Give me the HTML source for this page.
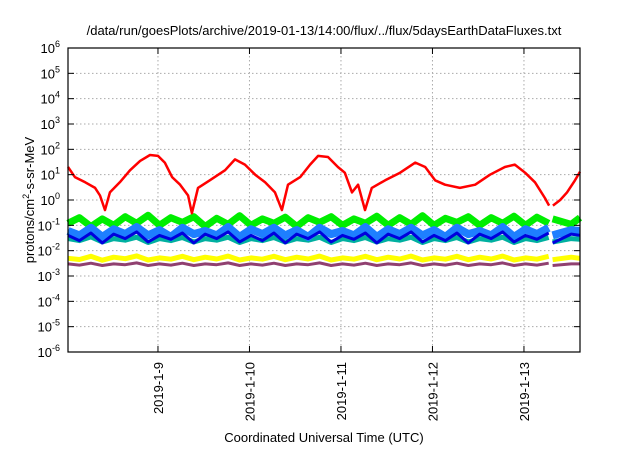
<!DOCTYPE html>
<html><head><meta charset="utf-8"><style>
body{margin:0;background:#fff;}
svg text{font-family:"Liberation Sans",sans-serif;fill:#000;}
</style></head><body>
<svg id="chart" width="640" height="448" xmlns="http://www.w3.org/2000/svg">
<text x="324" y="35" font-size="13" text-anchor="middle">/data/run/goesPlots/archive/2019-01-13/14:00/flux/../flux/5daysEarthDataFluxes.txt</text>
<text x="324" y="442" font-size="13" text-anchor="middle">Coordinated Universal Time (UTC)</text>
<text transform="translate(34,200) rotate(-90)" font-size="13" text-anchor="middle">protons/cm<tspan font-size="9" dy="-5">2</tspan><tspan dy="5">-s-sr-MeV</tspan></text>
<g id="grid"></g><g id="series"></g><g id="axes"></g>
</svg>
<script>
const dayLabels=["2019-1-9","2019-1-10","2019-1-11","2019-1-12","2019-1-13"];
const dayHours=[23.6,47.6,71.6,95.6,119.6];
const decadeExps=[-6,-5,-4,-3,-2,-1,0,1,2,3,4,5,6];
const gapStart=126.2, gapEnd=127.0;
const redT=[0,1.8,4.5,7.1,8.4,9.7,11.0,13.6,16.3,18.9,21.5,23.6,25.4,27.3,29.4,31.5,32.5,34.1,37.2,41.2,43.8,46.4,49.1,51.7,54.3,56.1,57.7,60.9,63.5,65.6,68.2,70.8,72.6,74.5,76.1,77.9,79.7,83.2,87.1,91.1,93.7,96.3,98.9,102.8,106.8,110.7,114.6,117.2,119.9,122.5,125.1,126.2,127.2,129.1,130.9,133.0,134.3];
const redV=[20,8,5,3,1.5,0.4,2,5,15,35,60,55,30,8,4,1.5,0.3,3,6,15,40,25,10,5,2,0.4,4,8,25,55,50,20,12,2,4,0.4,3,6,12,30,20,6,4,3,4,10,20,25,12,5,1.2,0.6,0.6,1,2,6,13];
const bandT=[0,3,6,9,12,15,18,21,24,27,30,33,36,39,42,45,48,51,54,57,60,63,66,69,72,75,78,81,84,87,90,93,96,99,102,105,108,111,114,117,120,123,126.1,127.1,132,134.3];
const greenV=[0.12,0.2,0.09,0.18,0.1,0.22,0.12,0.25,0.1,0.2,0.13,0.22,0.09,0.19,0.11,0.24,0.1,0.18,0.12,0.21,0.09,0.2,0.13,0.22,0.1,0.18,0.12,0.23,0.1,0.2,0.11,0.24,0.1,0.19,0.13,0.22,0.1,0.2,0.12,0.23,0.1,0.21,0.12,0.18,0.11,0.2];
const cyanV=[0.03,0.025,0.035,0.022,0.03,0.026,0.034,0.021,0.03,0.025,0.033,0.022,0.03,0.026,0.034,0.021,0.03,0.025,0.033,0.022,0.03,0.026,0.034,0.021,0.03,0.025,0.033,0.022,0.03,0.026,0.034,0.021,0.03,0.025,0.033,0.022,0.03,0.026,0.034,0.021,0.03,0.025,0.033,0.022,0.03,0.028];
const blueV=[0.06,0.04,0.08,0.035,0.07,0.045,0.085,0.04,0.065,0.035,0.08,0.045,0.06,0.04,0.085,0.035,0.07,0.045,0.08,0.04,0.065,0.035,0.08,0.045,0.06,0.04,0.085,0.035,0.07,0.045,0.08,0.04,0.065,0.035,0.08,0.045,0.06,0.04,0.085,0.035,0.07,0.045,0.08,0.04,0.065,0.06];
const darkBlueV=[0.04,0.025,0.05,0.02,0.045,0.03,0.055,0.022,0.04,0.028,0.05,0.02,0.045,0.03,0.055,0.022,0.04,0.025,0.05,0.02,0.045,0.03,0.055,0.022,0.04,0.028,0.05,0.02,0.045,0.03,0.055,0.022,0.04,0.025,0.05,0.02,0.045,0.03,0.055,0.022,0.04,0.028,0.05,0.02,0.045,0.04];
const yellowV=[0.005,0.0045,0.006,0.0042,0.0055,0.0048,0.0062,0.0043,0.0052,0.0046,0.006,0.0044,0.0055,0.0047,0.0061,0.0043,0.0052,0.0046,0.006,0.0044,0.0055,0.0047,0.0061,0.0043,0.0052,0.0046,0.006,0.0044,0.0055,0.0047,0.0061,0.0043,0.0052,0.0046,0.006,0.0044,0.0055,0.0047,0.0061,0.0043,0.0052,0.0046,0.006,0.0044,0.0055,0.005];
const purpleV=[0.003,0.0027,0.0032,0.0026,0.003,0.0028,0.0033,0.0026,0.003,0.0027,0.0032,0.0026,0.003,0.0028,0.0033,0.0026,0.003,0.0027,0.0032,0.0026,0.003,0.0028,0.0033,0.0026,0.003,0.0027,0.0032,0.0026,0.003,0.0028,0.0033,0.0026,0.003,0.0027,0.0032,0.0026,0.003,0.0028,0.0033,0.0026,0.003,0.0027,0.0032,0.0026,0.003,0.003];

const L=68,R=580,T=48,B=352,NS="http://www.w3.org/2000/svg";
const xMax=134.3;
function xs(h){return L+h*(R-L)/xMax;}
function ys(v){return B-(Math.log10(v)+6)*(B-T)/12;}
function mk(tag,attrs,parent){const e=document.createElementNS(NS,tag);for(const k in attrs)e.setAttribute(k,attrs[k]);parent.appendChild(e);return e;}
const grid=document.getElementById('grid'),axes=document.getElementById('axes'),ser=document.getElementById('series');
decadeExps.forEach(e=>{
  const y=ys(Math.pow(10,e));
  if(e>-6&&e<6){const g=mk('line',{x1:L,x2:R,y1:y,y2:y,stroke:'#aaa','stroke-dasharray':'1.5,2.5','stroke-width':1},grid);
  
  }
  const t1=mk('line',{x1:L,x2:L+6,y1:y,y2:y,stroke:'#000'},axes);
  
  
  const t2=mk('line',{x1:R,x2:R-6,y1:y,y2:y,stroke:'#000'},axes);
  
  
  const lb=mk('text',{x:L-8,y:y+5,'font-size':13,'text-anchor':'end'},axes);
  
  
  lb.innerHTML='10<tspan font-size="9" dy="-6">'+e+'</tspan>';
});
dayHours.forEach((h,i)=>{
  const x=xs(h);
  const g=mk('line',{x1:x,x2:x,y1:T,y2:B,stroke:'#aaa','stroke-dasharray':'1.5,2.5'},grid);
  
  
  const t1=mk('line',{x1:x,x2:x,y1:B,y2:B-6,stroke:'#000'},axes);
  
  
  const t2=mk('line',{x1:x,x2:x,y1:T,y2:T+6,stroke:'#000'},axes);
  
  
  const lb=mk('text',{transform:`translate(${x+5},${B+10}) rotate(-90)`,'font-size':13,'text-anchor':'end'},axes);
  
  
  lb.textContent=dayLabels[i];
});
const frame=mk('rect',{x:L,y:T,width:R-L,height:B-T,fill:'none',stroke:'#000','stroke-width':1.2},axes);


function pathFor(ts,vs){let d='',pen=false;
  for(let i=0;i<ts.length;i++){
    if(i>0&&ts[i-1]<=gapStart&&ts[i]>=gapEnd){pen=false;}
    d+=(pen?'L':'M')+xs(ts[i]).toFixed(1)+','+ys(vs[i]).toFixed(1);pen=true;}
  return d;}
function series(ts,vs,color,w,name){
  const p=mk('path',{d:pathFor(ts,vs),fill:'none',stroke:color,'stroke-width':w,'stroke-linejoin':'round'},ser);
  
  
}
series(bandT,greenV,'#00ee00',7,'series-green');
series(bandT,cyanV,'#00b0a0',5,'series-cyan');
series(bandT,blueV,'#1e7fff',8,'series-blue');
series(bandT,darkBlueV,'#0000dd',3,'series-dark-blue');
series(bandT,yellowV,'#ffff00',5,'series-yellow');
series(bandT,purpleV,'#904070',3,'series-purple');
series(redT,redV,'#ff0000',2.5,'series-red');
</script>
</body></html>
